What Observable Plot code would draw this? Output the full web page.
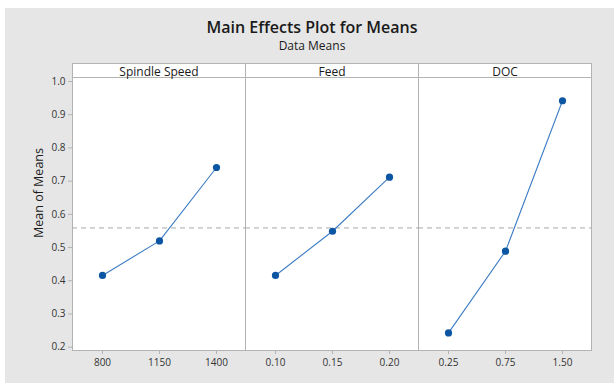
<!DOCTYPE html>
<html>
<head>
<meta charset="utf-8">
<script src="https://cdn.jsdelivr.net/npm/d3@7"></script>
<script src="https://cdn.jsdelivr.net/npm/@observablehq/plot@0.6"></script>
<style>
  html, body { margin: 0; padding: 0; background: #ffffff; width: 614px; height: 383px; overflow: hidden; }
  #bg { position: absolute; left: 5px; top: 8px; width: 609px; height: 375px; background: #e6e6e6; }
  .t { position: absolute; left: 5px; width: 614px; text-align: center; font-family: "Open Sans", sans-serif; color: #1a1a1a; }
  #title { top: 17px; font-size: 16px; line-height: 20px; font-weight: 600; }
  #subtitle { top: 38px; font-size: 12px; line-height: 16px; }
  #chart { position: absolute; left: 0; top: 56px; }
</style>
</head>
<body>
<div id="bg"></div>
<div class="t" id="title">Main Effects Plot for Means</div>
<div class="t" id="subtitle">Data Means</div>
<div id="chart"></div>
<script>
const factors = ["Spindle Speed", "Feed", "DOC"];
const spindleLevels = ["800", "1150", "1400"];
const spindleMeans = [0.416, 0.520, 0.741];
const feedLevels = ["0.10", "0.15", "0.20"];
const feedMeans = [0.416, 0.549, 0.712];
const docLevels = ["0.25", "0.75", "1.50"];
const docMeans = [0.243, 0.489, 0.942];
const grandMean = 0.559;
const yTicks = [0.2, 0.3, 0.4, 0.5, 0.6, 0.7, 0.8, 0.9, 1.0];

const levelSets = [spindleLevels, feedLevels, docLevels];
const meanSets = [spindleMeans, feedMeans, docMeans];
const rows = [];
factors.forEach((f, k) => {
  levelSets[k].forEach((lv, i) => rows.push({factor: f, idx: i, level: lv, mean: meanSets[k][i]}));
});

const W = 614, H = 320, mTop = 21, mBottom = 26, mLeft = 72, mRight = 23;
const innerH = H - mTop - mBottom;
const frameColor = "#b3b3b3";
const font = "Open Sans, sans-serif";

const chart = Plot.plot({
  width: W,
  height: H,
  marginTop: mTop,
  marginBottom: mBottom,
  marginLeft: mLeft,
  marginRight: mRight,
  style: {background: "transparent", fontFamily: font, fontSize: "10px", color: "#333"},
  fx: {domain: factors, padding: 0, label: null},
  x: {type: "point", domain: [0, 1, 2], padding: 0.5, axis: null},
  y: {domain: [0.19, 1.012], label: null},
  marks: [
    Plot.frame({fill: "white", stroke: frameColor, insetTop: -14}),
    Plot.frame({stroke: frameColor}),
    Plot.axisFx({anchor: "top", label: null, tickSize: 0, tickPadding: 2, fontSize: 12, fontWeight: 500, fill: "#1a1a1a"}),
    Plot.axisY({ticks: yTicks, tickFormat: d3.format(".1f"), tickSize: 4, tickPadding: 3, label: null, stroke: frameColor, fill: "#333"}),
    Plot.ruleX(rows, {fx: "factor", x: "idx", insetTop: innerH, insetBottom: -4, stroke: frameColor}),
    Plot.text(rows, {fx: "factor", x: "idx", text: "level", frameAnchor: "bottom", dy: 12, lineAnchor: "middle", fill: "#333"}),
    Plot.text(["Mean of Means"], {fx: ["Spindle Speed"], text: d => d, frameAnchor: "left", textAnchor: "middle", lineAnchor: "middle", rotate: -90, dx: -34, dy: -21, fontSize: 12.5, fill: "#1a1a1a"}),
    Plot.ruleY([grandMean], {stroke: "#a8a8a8", strokeDasharray: "5,4"}),
    Plot.line(rows, {fx: "factor", x: "idx", y: "mean", stroke: "#3d7cc4", strokeWidth: 1.1}),
    Plot.dot(rows, {fx: "factor", x: "idx", y: "mean", r: 3.6, fill: "#0b55a3", stroke: "none"})
  ]
});
document.getElementById("chart").appendChild(chart);
</script>
</body>
</html>
